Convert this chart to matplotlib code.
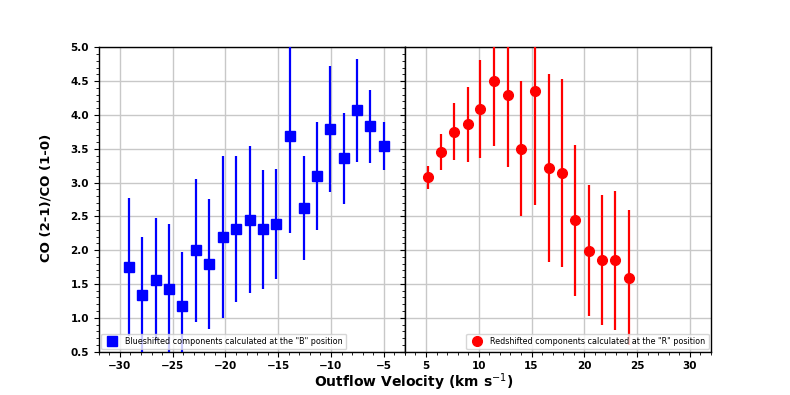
import numpy as np
import matplotlib.pyplot as plt
from matplotlib.ticker import MultipleLocator

# blueshifted components ("B" position)
blue_v = [-29.11, -27.91, -26.61, -25.32, -24.11, -22.78, -21.52, -20.19, -19.02, -17.69,
          -16.42, -15.19, -13.89, -12.59, -11.36, -10.09, -8.76, -7.50, -6.27, -4.97]
blue_ratio = [1.75, 1.33, 1.56, 1.43, 1.18, 2.00, 1.80, 2.20, 2.32, 2.45,
              2.31, 2.39, 3.69, 2.63, 3.10, 3.79, 3.36, 4.07, 3.83, 3.54]
blue_err = [1.02, 0.86, 0.91, 0.96, 0.79, 1.06, 0.96, 1.20, 1.08, 1.09,
            0.88, 0.81, 1.43, 0.77, 0.80, 0.93, 0.67, 0.76, 0.54, 0.35]

# redshifted components ("R" position)
red_v = [5.19, 6.39, 7.69, 8.99, 10.16, 11.49, 12.75, 14.02, 15.28, 16.61,
         17.88, 19.11, 20.41, 21.71, 22.94, 24.21]
red_ratio = [3.08, 3.45, 3.75, 3.86, 4.09, 4.50, 4.30, 3.50, 4.36, 3.22,
             3.14, 2.44, 1.99, 1.85, 1.85, 1.59]
red_err = [0.17, 0.27, 0.42, 0.55, 0.72, 0.96, 1.07, 1.00, 1.69, 1.39,
           1.39, 1.12, 0.97, 0.96, 1.03, 1.00]

blue_ticks = [-30, -25, -20, -15, -10, -5]
red_ticks = [5, 10, 15, 20, 25, 30]

plt.rcParams['font.family'] = 'DejaVu Sans'
plt.rcParams['axes.linewidth'] = 1.0

fig, (ax1, ax2) = plt.subplots(1, 2, figsize=(7.9, 3.95), dpi=100, sharey=True)
fig.subplots_adjust(wspace=0)

ax1.errorbar(blue_v, blue_ratio, yerr=blue_err, fmt='none', ecolor='blue', elinewidth=1.6, zorder=3)
ax1.plot(blue_v, blue_ratio, 's', color='blue', markersize=7, zorder=4,
         label='Blueshifted components calculated at the "B" position')
ax2.errorbar(red_v, red_ratio, yerr=red_err, fmt='none', ecolor='red', elinewidth=1.6, zorder=3)
ax2.plot(red_v, red_ratio, 'o', color='red', markersize=7, zorder=4,
         label='Redshifted components calculated at the "R" position')

ax1.set_xlim(-32, -3)
ax2.set_xlim(3, 32)
ax1.set_ylim(0.5, 5.0)
ax1.set_xticks(blue_ticks)
ax2.set_xticks(red_ticks)

for ax in (ax1, ax2):
    ax.xaxis.set_minor_locator(MultipleLocator(1))
    ax.yaxis.set_major_locator(MultipleLocator(0.5))
    ax.yaxis.set_minor_locator(MultipleLocator(0.1))
    ax.grid(True, which='major', color='#c8c8c8', linewidth=1.0, zorder=0)
    ax.set_axisbelow(True)
    ax.tick_params(which='both', direction='out', labelsize=7.5)
    for lab in ax.get_xticklabels() + ax.get_yticklabels():
        lab.set_fontweight('bold')

ax2.tick_params(axis='y', labelleft=False)

ax1.legend(loc='lower left', fontsize=5.8, numpoints=1, borderpad=0.4,
           handletextpad=0.6, borderaxespad=0.3)
ax2.legend(loc='lower right', fontsize=5.8, numpoints=1, borderpad=0.4,
           handletextpad=0.6, borderaxespad=0.3)

fig.text(0.058, 0.5, 'CO (2-1)/CO (1-0)', rotation=90, ha='center', va='center',
         fontsize=9.5, fontweight='bold')
fig.text(0.523, 0.033, r'Outflow Velocity (km s$^{-1}$)', ha='center', va='center',
         fontsize=10, fontweight='bold')

plt.savefig('out.png', dpi=100)
